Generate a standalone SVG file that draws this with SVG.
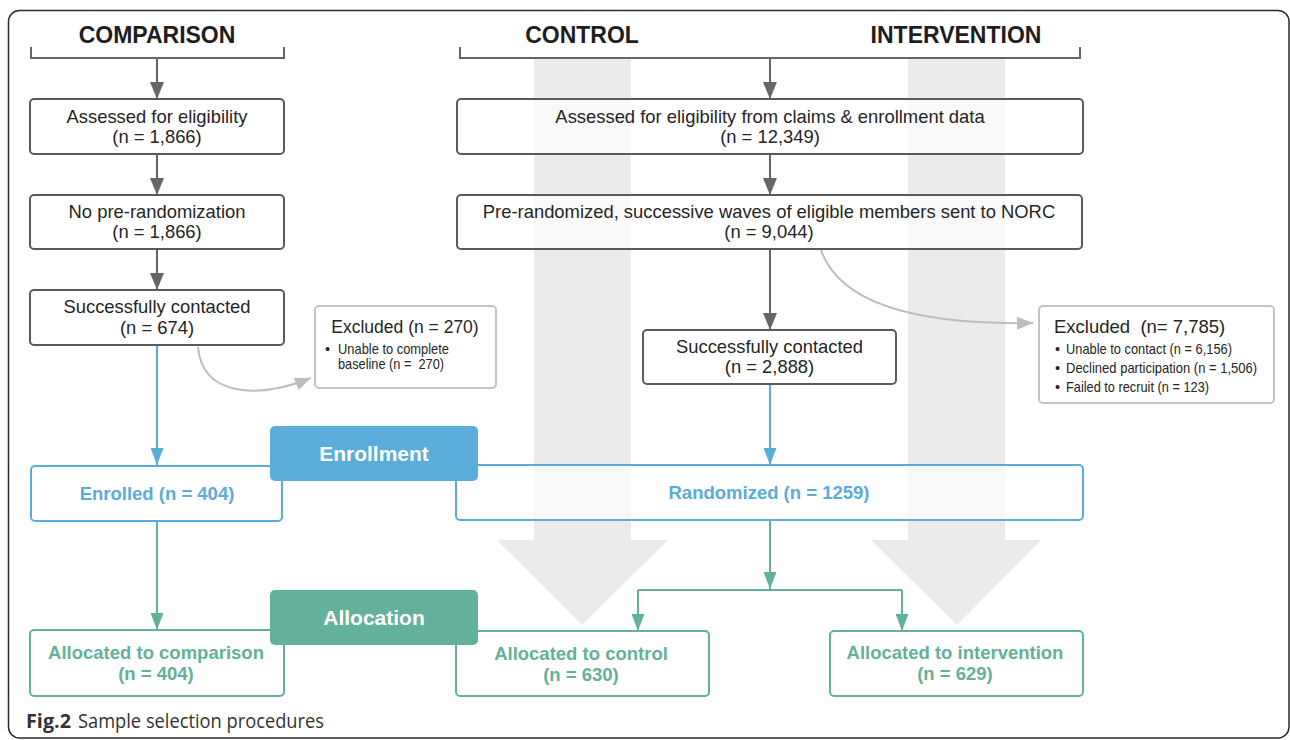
<svg xmlns="http://www.w3.org/2000/svg" width="1290" height="740" viewBox="0 0 1290 740">
<defs>
<style>
.t{font-family:"Liberation Sans",Arial,sans-serif;fill:#252525;text-anchor:middle}
.box{fill:#fff;fill-opacity:0.7;stroke:#5a5a5a;stroke-width:2}
.ex{fill:#fff;fill-opacity:0.7;stroke:#c4c4c4;stroke-width:2}
.bx{fill:#fff;fill-opacity:0.7;stroke:#5aacdb;stroke-width:2}
.tx{fill:#fff;fill-opacity:0.7;stroke:#63b19c;stroke-width:2}
.n{font-size:18.4px}
.h{font-size:23px;font-weight:bold;fill:#1e1e1e}
.b{font-size:18.5px;font-weight:bold}
.blue{fill:#5aacdb}
.teal{fill:#63b19c}
.lbl{font-size:21px;font-weight:bold;fill:#fff}
.bul{font-family:"Liberation Sans",Arial,sans-serif;font-size:14.5px;fill:#252525}
.dk{stroke:#666;stroke-width:2;fill:none}
.bl{stroke:#5aacdb;stroke-width:2;fill:none}
.tl{stroke:#63b19c;stroke-width:2;fill:none}
.gy{stroke:#bdbdbd;stroke-width:2;fill:none}
.shaft{fill:#ebebeb}
</style>
<marker id="mDk" markerUnits="userSpaceOnUse" markerWidth="17" markerHeight="14" refX="17" refY="7" orient="auto"><path d="M0,0 L17,7 L0,14 z" fill="#666"/></marker>
<marker id="mBl" markerUnits="userSpaceOnUse" markerWidth="17" markerHeight="13" refX="17" refY="6.5" orient="auto"><path d="M0,0 L17,6.5 L0,13 z" fill="#5aacdb"/></marker>
<marker id="mTl" markerUnits="userSpaceOnUse" markerWidth="17" markerHeight="13" refX="17" refY="6.5" orient="auto"><path d="M0,0 L17,6.5 L0,13 z" fill="#63b19c"/></marker>
<marker id="mGy" markerUnits="userSpaceOnUse" markerWidth="16" markerHeight="13" refX="16" refY="6.5" orient="auto"><path d="M0,0 L16,6.5 L0,13 z" fill="#bdbdbd"/></marker>
</defs>

<rect x="8.5" y="10.5" width="1280.5" height="727.5" rx="11" fill="none" stroke="#2a2a2a" stroke-width="1.5"/>

<g id="shafts">
<polygon class="shaft" points="534,59 631,59 631,540 668,540 582,625 497,540 534,540"/>
<polygon class="shaft" points="908,59 1005,59 1005,540 1041,540 957,625 871,540 908,540"/>
</g>

<g id="headers">
<text class="t h" x="157" y="43">COMPARISON</text>
<path d="M31,47 V58 H284 V47" fill="none" stroke="#666" stroke-width="2"/>
<text class="t h" x="582" y="43">CONTROL</text>
<text class="t h" x="956" y="43">INTERVENTION</text>
<path d="M460,47 V58 H1080 V47" fill="none" stroke="#666" stroke-width="2"/>
</g>

<g id="connectors">
<line class="dk" x1="157" y1="59" x2="157" y2="99" marker-end="url(#mDk)"/>
<line class="dk" x1="157" y1="155" x2="157" y2="195" marker-end="url(#mDk)"/>
<line class="dk" x1="157" y1="250" x2="157" y2="290" marker-end="url(#mDk)"/>
<line class="dk" x1="770" y1="59" x2="770" y2="99" marker-end="url(#mDk)"/>
<line class="dk" x1="770" y1="155" x2="770" y2="195" marker-end="url(#mDk)"/>
<line class="dk" x1="770" y1="250" x2="770" y2="330" marker-end="url(#mDk)"/>
<line class="bl" x1="157" y1="345" x2="157" y2="465" marker-end="url(#mBl)"/>
<line class="bl" x1="770" y1="385" x2="770" y2="465" marker-end="url(#mBl)"/>
<line class="tl" x1="157" y1="521" x2="157" y2="630" marker-end="url(#mTl)"/>
<line class="tl" x1="770" y1="520" x2="770" y2="589" marker-end="url(#mTl)"/>
<polyline class="tl" points="638,590 902,590"/>
<line class="tl" x1="638" y1="590" x2="638" y2="631" marker-end="url(#mTl)"/>
<line class="tl" x1="902" y1="590" x2="902" y2="631" marker-end="url(#mTl)"/>
<path class="gy" d="M198,347 C202,395 255,400 311,378" marker-end="url(#mGy)"/>
<path class="gy" d="M821,250 C840,305 920,325 1033,323" marker-end="url(#mGy)"/>
</g>

<g id="n-assess-comp">
<rect class="box" x="30" y="99" width="254" height="55" rx="4"/>
<text class="t n" x="157" y="123">Assessed for eligibility</text>
<text class="t n" x="157" y="143">(n = 1,866)</text>
</g>
<g id="n-nopre">
<rect class="box" x="30" y="195" width="254" height="54" rx="4"/>
<text class="t n" x="157" y="218">No pre-randomization</text>
<text class="t n" x="157" y="238">(n = 1,866)</text>
</g>
<g id="n-contact-comp">
<rect class="box" x="30" y="290" width="254" height="55" rx="4"/>
<text class="t n" x="157" y="313">Successfully contacted</text>
<text class="t n" x="157" y="334">(n = 674)</text>
</g>
<g id="n-excl-comp">
<rect class="ex" x="315" y="306" width="181" height="82" rx="4"/>
<text class="t" x="405" y="333" style="font-size:17.5px">Excluded (n = 270)</text>
<text class="bul" x="325" y="354">•</text>
<text class="bul" x="338" y="354" textLength="111" lengthAdjust="spacingAndGlyphs">Unable to complete</text>
<text class="bul" x="338" y="369" textLength="106" lengthAdjust="spacingAndGlyphs" xml:space="preserve">baseline (n =  270)</text>
</g>

<g id="n-assess-claims">
<rect class="box" x="457" y="99" width="626" height="55" rx="4"/>
<text class="t n" x="770" y="123">Assessed for eligibility from claims &amp; enrollment data</text>
<text class="t n" x="770" y="143">(n = 12,349)</text>
</g>
<g id="n-prerand">
<rect class="box" x="457" y="195" width="625" height="54" rx="4"/>
<text class="t n" x="769" y="218">Pre-randomized, successive waves of eligible members sent to NORC</text>
<text class="t n" x="769" y="238">(n = 9,044)</text>
</g>
<g id="n-contact-rand">
<rect class="box" x="643" y="330" width="253" height="54" rx="4"/>
<text class="t n" x="769.5" y="353">Successfully contacted</text>
<text class="t n" x="769.5" y="373">(n = 2,888)</text>
</g>
<g id="n-excl-rand">
<rect class="ex" x="1039" y="306" width="235" height="97" rx="4"/>
<text class="t" x="1054" y="333" style="font-size:18.5px;text-anchor:start" xml:space="preserve">Excluded  (n= 7,785)</text>
<text class="bul" x="1055" y="354">•</text>
<text class="bul" x="1066" y="354" textLength="166" lengthAdjust="spacingAndGlyphs">Unable to contact (n = 6,156)</text>
<text class="bul" x="1055" y="373">•</text>
<text class="bul" x="1066" y="373" textLength="191" lengthAdjust="spacingAndGlyphs">Declined participation (n = 1,506)</text>
<text class="bul" x="1055" y="392">•</text>
<text class="bul" x="1066" y="392" textLength="143" lengthAdjust="spacingAndGlyphs">Failed to recruit (n = 123)</text>
</g>

<g id="n-enrolled">
<rect class="bx" x="31" y="466" width="251" height="55" rx="4"/>
<text class="t b blue" x="157" y="500">Enrolled (n = 404)</text>
</g>
<g id="n-randomized">
<rect class="bx" x="456" y="465" width="627" height="55" rx="4"/>
<text class="t b blue" x="769" y="499">Randomized (n = 1259)</text>
</g>
<g id="n-enrollment-label">
<rect x="270" y="426" width="208" height="55" rx="5" fill="#5aacdb"/>
<text class="t lbl" x="374" y="461">Enrollment</text>
</g>

<g id="n-alloc-comp">
<rect class="tx" x="30" y="630" width="254" height="66" rx="4"/>
<text class="t b teal" x="156" y="659">Allocated to comparison</text>
<text class="t b teal" x="156" y="680">(n = 404)</text>
</g>
<g id="n-alloc-ctrl">
<rect class="tx" x="456" y="631" width="253" height="65" rx="4"/>
<text class="t b teal" x="581" y="660">Allocated to control</text>
<text class="t b teal" x="581" y="681">(n = 630)</text>
</g>
<g id="n-alloc-int">
<rect class="tx" x="830" y="631" width="253" height="65" rx="4"/>
<text class="t b teal" x="955" y="659">Allocated to intervention</text>
<text class="t b teal" x="955" y="680">(n = 629)</text>
</g>
<g id="n-allocation-label">
<rect x="270" y="590" width="208" height="55" rx="5" fill="#63b19c"/>
<text class="t lbl" x="374" y="625">Allocation</text>
</g>

<g id="caption">
<text x="26" y="728" style="font-family:'Open Sans','Liberation Sans',sans-serif;font-size:20px;font-weight:bold;fill:#333" textLength="45" lengthAdjust="spacingAndGlyphs">Fig.2</text>
<text x="78" y="728" style="font-family:'Open Sans','Liberation Sans',sans-serif;font-size:20px;fill:#333" textLength="246" lengthAdjust="spacingAndGlyphs">Sample selection procedures</text>
</g>
</svg>
